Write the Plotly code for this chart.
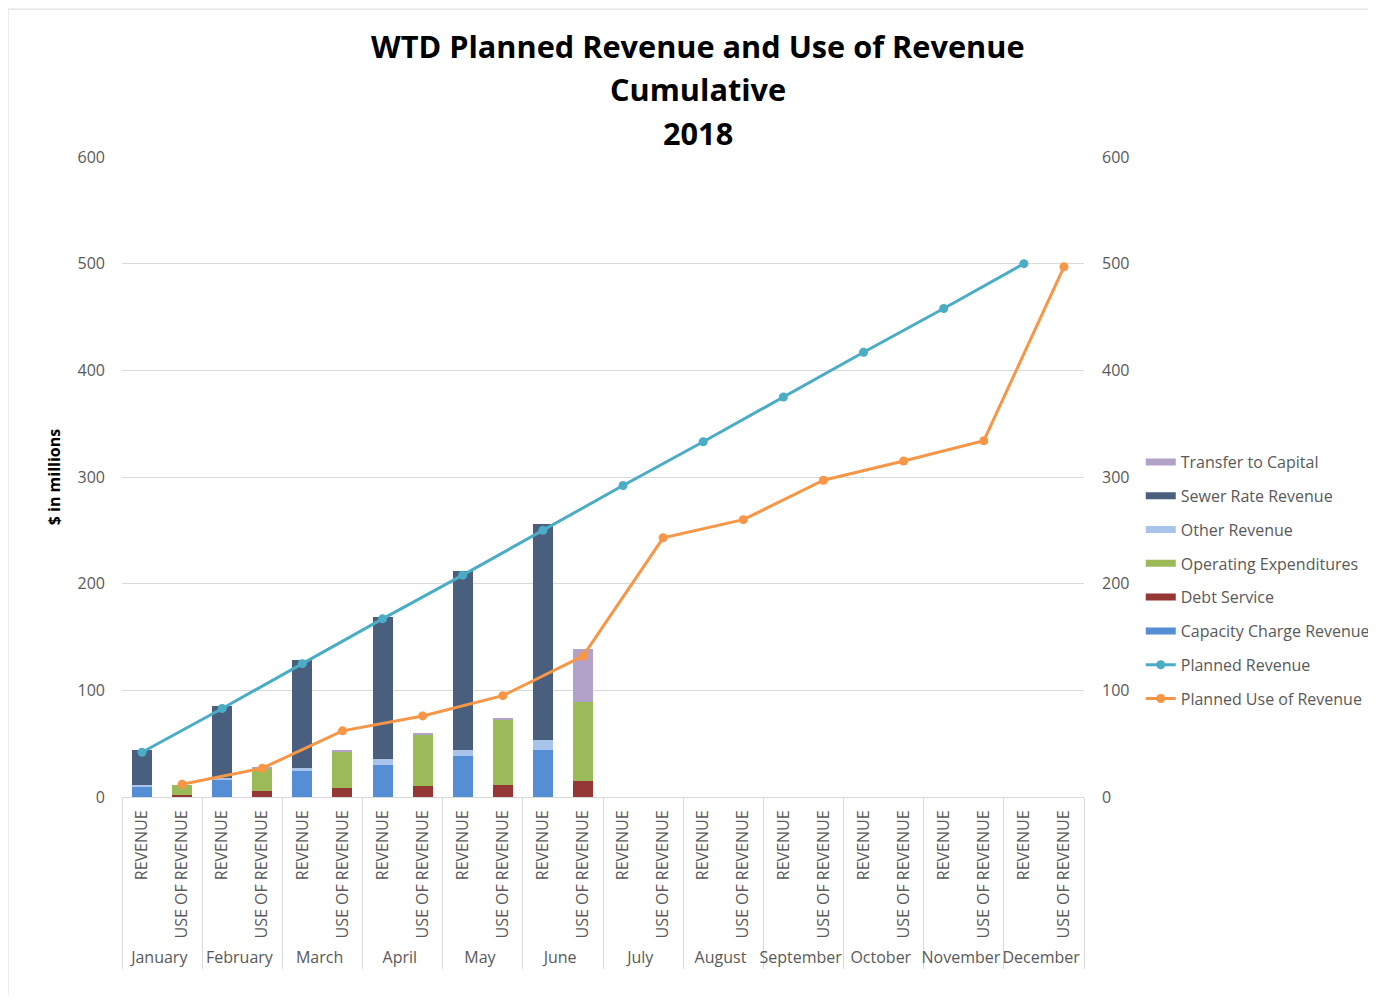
import plotly.graph_objects as go

# months and the two bar slots per month
MONTHS = ["January", "February", "March", "April", "May", "June",
          "July", "August", "September", "October", "November", "December"]
SLOTS = ["REVENUE", "USE OF REVENUE"]

# stacked bar components ($ millions), Jan..Jun only
capacity_charge = [10, 16, 24, 30, 38, 44]
other_revenue = [1, 2, 3, 6, 6, 9]
sewer_rate = [33, 67, 101, 133, 168, 203]
debt_service = [2, 6, 8.5, 10, 11, 15]
operating_exp = [9, 21, 34.5, 48, 62, 74]
transfer_capital = [0, 0.5, 1, 2, 1.5, 50]

# cumulative plan lines
planned_revenue = [42, 83, 125, 167, 208, 250, 292, 333, 375, 417, 458, 500]
planned_use = [12, 27, 62, 76, 95, 132, 243, 260, 297, 315, 334, 497]

TITLE_LINES = ["WTD Planned Revenue and Use of Revenue", "Cumulative", "2018"]

FONT = "Open Sans"
GREY = "#595959"

# page body adds an 8px offset, so the figure is sized around it
W, H = 1368, 987
L, T, PW, PH = 114, 149, 962, 640

# full 24-slot x arrays so every category shows even without data
x_outer = [m for m in MONTHS for _ in SLOTS]
x_inner = [s for _ in MONTHS for s in SLOTS]


def slot_values(vals, slot):
    out = []
    for i in range(len(MONTHS)):
        for s in SLOTS:
            if s == slot and i < len(vals):
                out.append(vals[i])
            else:
                out.append(None)
    return out


fig = go.Figure()

bars = [
    ("Capacity Charge Revenue", capacity_charge, "REVENUE", "#558ed5", 6),
    ("Debt Service", debt_service, "USE OF REVENUE", "#953735", 5),
    ("Operating Expenditures", operating_exp, "USE OF REVENUE", "#9bbb59", 4),
    ("Other Revenue", other_revenue, "REVENUE", "#a9c4eb", 3),
    ("Sewer Rate Revenue", sewer_rate, "REVENUE", "#4a5f7e", 2),
    ("Transfer to Capital", transfer_capital, "USE OF REVENUE", "#b3a2c7", 1),
]
for name, vals, slot, color, rank in bars:
    fig.add_trace(go.Bar(x=[x_outer, x_inner], y=slot_values(vals, slot), name=name,
                         marker=dict(color=color, line=dict(width=0)),
                         showlegend=False, legendgroup=name))
    # wide flat swatch like the Excel legend
    fig.add_trace(go.Scatter(x=[None], y=[None], mode="lines", name=name,
                             line=dict(color=color, width=7),
                             legendrank=rank, legendgroup=name))

fig.add_trace(go.Scatter(x=[MONTHS, ["REVENUE"] * 12], y=planned_revenue,
                         name="Planned Revenue", mode="lines+markers",
                         line=dict(color="#4bacc6", width=3),
                         marker=dict(size=9, color="#4bacc6"),
                         legendrank=7, legendgroup="pr", yaxis="y2"))
fig.add_trace(go.Scatter(x=[MONTHS, ["USE OF REVENUE"] * 12], y=planned_use,
                         name="Planned Use of Revenue", mode="lines+markers",
                         line=dict(color="#f79646", width=3),
                         marker=dict(size=9, color="#f79646"),
                         legendrank=8, legendgroup="pu", yaxis="y2"))

title_y = [1.1734, 1.1063, 1.0375]
annotations = [dict(text=f"<b>{t}</b>", xref="paper", yref="paper",
                    x=0.5988, y=yy, xanchor="center", yanchor="middle",
                    showarrow=False, font=dict(family=FONT, size=30.7, color="black"))
               for t, yy in zip(TITLE_LINES, title_y)]

fig.update_layout(
    width=W, height=H,
    paper_bgcolor="white", plot_bgcolor="white",
    margin=dict(l=L, r=W - L - PW, t=T, b=H - T - PH, autoexpand=False),
    barmode="stack", bargap=0.5,
    font=dict(family=FONT, color=GREY, size=16),
    xaxis=dict(type="multicategory", range=[-0.5, 23.5], autorange=False,
               tickangle=-90, showgrid=False,
               showline=True, linecolor="#d9d9d9", ticks="",
               showdividers=True, dividercolor="#d9d9d9", dividerwidth=1,
               ticklabelstandoff=6,
               tickfont=dict(size=16, color=GREY)),
    yaxis=dict(range=[0, 600], dtick=100, showgrid=True, gridcolor="#d9d9d9",
               zeroline=False, ticklabelstandoff=16,
               title=dict(text="<b>$ in millions</b>", standoff=12,
                          font=dict(size=16, color="black"))),
    yaxis2=dict(range=[0, 600], dtick=100, overlaying="y", side="right",
                showgrid=False, zeroline=False, ticklabelstandoff=17),
    legend=dict(x=1.059, xanchor="left", y=0.55, yanchor="top",
                tracegroupgap=10, font=dict(size=16, color=GREY),
                bgcolor="rgba(0,0,0,0)"),
    annotations=annotations,
    shapes=[dict(type="rect", xref="paper", yref="paper",
                 x0=-0.1185, x1=1.4, y0=-0.33, y1=1.231,
                 line=dict(color="#d9d9d9", width=1), layer="below")],
)

fig.write_html("out.html")
